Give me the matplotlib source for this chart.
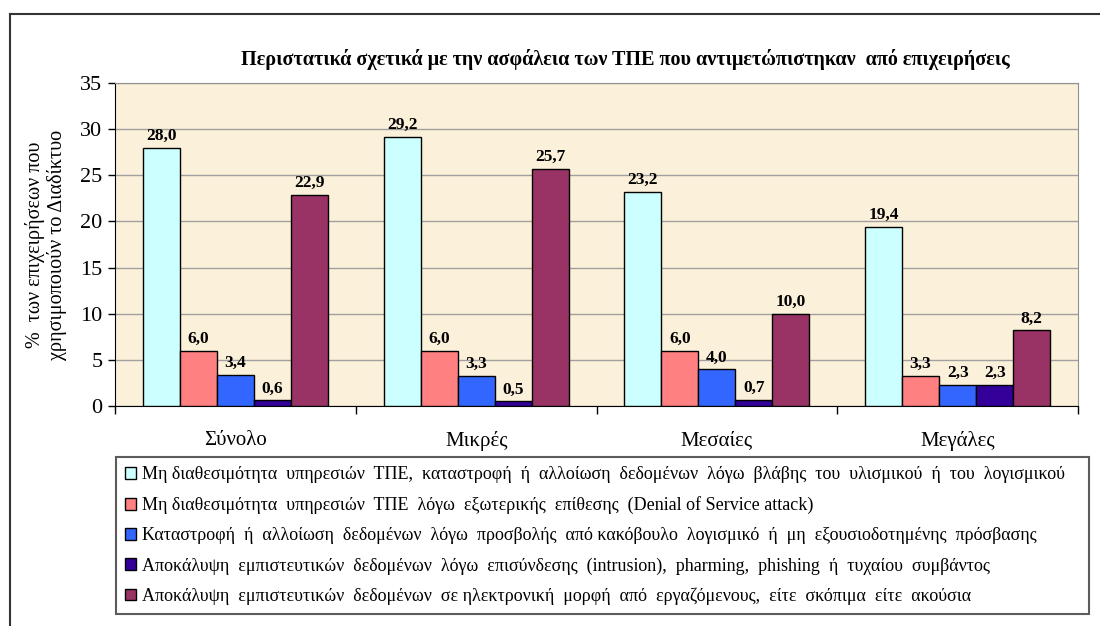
import matplotlib.pyplot as plt
import numpy as np
from matplotlib.lines import Line2D

plt.rcParams['font.family'] = ['Liberation Serif', 'DejaVu Serif']

categories = ['Σύνολο', 'Μικρές', 'Μεσαίες', 'Μεγάλες']
series_names = [
    'Μη διαθεσιμότητα  υπηρεσιών  ΤΠΕ,  καταστροφή  ή  αλλοίωση  δεδομένων  λόγω  βλάβης  του  υλισμικού  ή  του  λογισμικού',
    'Μη διαθεσιμότητα  υπηρεσιών  ΤΠΕ  λόγω  εξωτερικής  επίθεσης  (Denial of Service attack)',
    'Καταστροφή  ή  αλλοίωση  δεδομένων  λόγω  προσβολής  από κακόβουλο  λογισμικό  ή  μη  εξουσιοδοτημένης  πρόσβασης',
    'Αποκάλυψη  εμπιστευτικών  δεδομένων  λόγω  επισύνδεσης  (intrusion),  pharming,  phishing  ή  τυχαίου  συμβάντος',
    'Αποκάλυψη  εμπιστευτικών  δεδομένων  σε ηλεκτρονική  μορφή  από  εργαζόμενους,  είτε  σκόπιμα  είτε  ακούσια',
]
hardware = [28.0, 29.2, 23.2, 19.4]
dos = [6.0, 6.0, 6.0, 3.3]
malware = [3.4, 3.3, 4.0, 2.3]
intrusion = [0.6, 0.5, 0.7, 2.3]
employees = [22.9, 25.7, 10.0, 8.2]
colors = ['#CCFFFF', '#FF8080', '#3366FF', '#330099', '#993366']

values = [hardware, dos, malware, intrusion, employees]

fig = plt.figure(figsize=(11, 6.26), dpi=100)
ax = fig.add_axes([115/1100, 1-406/626, (1078-115)/1100, (406-83)/626])
ax.set_facecolor('#FBF0D9')

x = np.arange(len(categories))
w = 1/6.5
for i, vals in enumerate(values):
    pos = x + (i - 2) * w
    bars = ax.bar(pos, vals, w, color=colors[i], edgecolor='black', linewidth=1, zorder=3, label=series_names[i])
    for b, v in zip(bars, vals):
        ax.text(b.get_x() + w/2, v + 0.4, f'{v:.1f}'.replace('.', ','), ha='center', va='bottom',
                fontsize=12.5, fontweight='bold', zorder=4)

ax.set_xlim(-0.5, 3.5)
ax.set_ylim(0, 35)
ax.set_yticks(range(0, 36, 5))
ax.yaxis.grid(True, color='#A0A0A0', linewidth=1, zorder=0)
ax.set_xticks(x)
ax.set_xticklabels(categories, fontsize=15)
ax.set_xticks(np.arange(-0.5, 4, 1), minor=True)
ax.tick_params(axis='x', which='major', length=0, pad=18)
ax.tick_params(axis='x', which='minor', length=6, width=1, direction='out')
ax.tick_params(axis='y', labelsize=16, length=5, width=1, direction='out', pad=4)
for s in ['top', 'right']:
    ax.spines[s].set_color('#909090')
for s in ['left', 'bottom']:
    ax.spines[s].set_color('black')

ax.set_ylabel('%  των επιχειρήσεων που\nχρησιμοποιούν το Διαδίκτυο', fontsize=14.5, linespacing=1.15)
ax.yaxis.set_label_coords(-0.05, 0.5)

fig.text(625/1100, 1-60/626, 'Περιστατικά σχετικά με την ασφάλεια των ΤΠΕ που αντιμετώπιστηκαν  από επιχειρήσεις',
         ha='center', va='center', fontsize=14.5, fontweight='bold')

leg = fig.legend(loc='lower left', bbox_to_anchor=(116/1100, 1-614/626, (1089-116)/1100, (614-454)/626),
                 mode='expand', fontsize=13, frameon=True, fancybox=False, edgecolor='#333333',
                 handlelength=0.6, handleheight=0.6, handletextpad=0.35, labelspacing=0.72,
                 borderpad=0.5, borderaxespad=0)
leg.get_frame().set_linewidth(1.5)

# outer frame of the chart area
fig.add_artist(Line2D([10/1100, 1], [1-14/626, 1-14/626], color='#333333', linewidth=1.5))
fig.add_artist(Line2D([10/1100, 10/1100], [0, 1-14/626], color='#333333', linewidth=1.5))

fig.savefig('out.png', dpi=100)
